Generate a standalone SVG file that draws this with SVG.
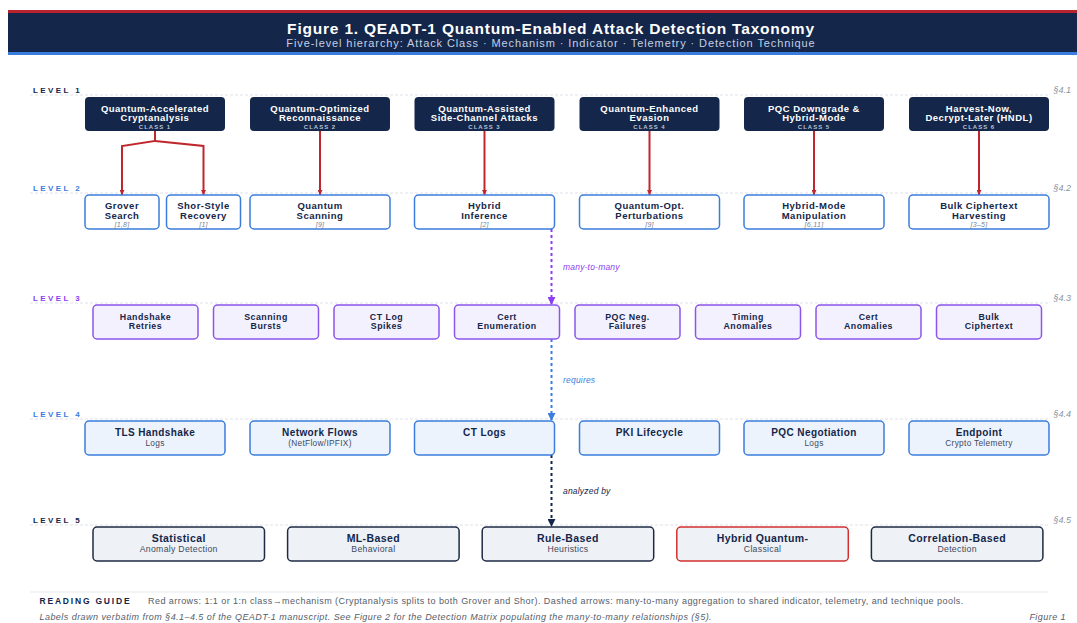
<svg xmlns="http://www.w3.org/2000/svg" width="1077" height="623" viewBox="0 0 1077 623">
<style>
text{font-family:"Liberation Sans",Arial,sans-serif}
.tt{font-size:15.5px;font-weight:bold;fill:#fff;text-anchor:middle;letter-spacing:.8px}
.st{font-size:11px;fill:#c5d0e3;text-anchor:middle;letter-spacing:.9px}
.lv{font-size:8px;font-weight:bold;letter-spacing:2.4px}
.sec{font-size:9px;font-style:italic;fill:#8a93a3;text-anchor:end}
.sep{stroke:#dde1e8;stroke-width:1;stroke-dasharray:3 2}
.b1{fill:#14264a}
.b2{fill:#fff;stroke:#3b7ddd;stroke-width:1.5}
.b3{fill:#f4f1fe;stroke:#8b55ea;stroke-width:1.5}
.b4{fill:#edf3fc;stroke:#3b7ddd;stroke-width:1.5}
.b5{fill:#eef1f6;stroke:#1e2b45;stroke-width:1.5}
.b5r{fill:#eef1f6;stroke:#d32f2f;stroke-width:1.5}
.t1{font-size:9.5px;font-weight:bold;fill:#fff;text-anchor:middle;letter-spacing:.5px}
.c1{font-size:6px;font-weight:bold;fill:#b9c4d8;text-anchor:middle;letter-spacing:1px}
.t2{font-size:9.5px;font-weight:bold;fill:#14264a;text-anchor:middle;letter-spacing:.5px}
.r2{font-size:7px;font-style:italic;fill:#7a8699;text-anchor:middle;letter-spacing:.3px}
.t3{font-size:8.8px;font-weight:bold;fill:#14264a;text-anchor:middle;letter-spacing:.5px}
.t4{font-size:10px;font-weight:bold;fill:#14264a;text-anchor:middle;letter-spacing:.4px}
.s4{font-size:8.3px;fill:#3c4a60;text-anchor:middle;letter-spacing:.3px}
.t5{font-size:10.5px;font-weight:bold;fill:#14264a;text-anchor:middle;letter-spacing:.4px}
.s5{font-size:8.7px;fill:#3c4a60;text-anchor:middle;letter-spacing:.3px}
.red{fill:none;stroke:#c0262d;stroke-width:2}
.dl{font-size:8.5px;font-style:italic;letter-spacing:.2px}
.ft{font-size:9px;fill:#555d6b;letter-spacing:.45px}
</style>
<defs>
<marker id="ar" viewBox="0 0 10 10" refX="10" refY="5" markerWidth="6" markerHeight="5" markerUnits="userSpaceOnUse" orient="auto"><path d="M0,0L10,5L0,10z" fill="#c0262d"/></marker>
<marker id="ap" viewBox="0 0 10 10" refX="10" refY="5" markerWidth="8" markerHeight="8" markerUnits="userSpaceOnUse" orient="auto"><path d="M0,0L10,5L0,10z" fill="#8b3ff0"/></marker>
<marker id="ab" viewBox="0 0 10 10" refX="10" refY="5" markerWidth="8" markerHeight="8" markerUnits="userSpaceOnUse" orient="auto"><path d="M0,0L10,5L0,10z" fill="#3b7ddd"/></marker>
<marker id="an" viewBox="0 0 10 10" refX="10" refY="5" markerWidth="8" markerHeight="8" markerUnits="userSpaceOnUse" orient="auto"><path d="M0,0L10,5L0,10z" fill="#14264a"/></marker>
</defs>
<rect width="1077" height="623" fill="#fff"/>
<g id="header">
<rect x="8" y="10" width="1069" height="3" fill="#b8232d"/>
<rect x="8" y="13" width="1069" height="39" fill="#14264a"/>
<rect x="8" y="52" width="1069" height="3" fill="#3b7ddd"/>
<text class="tt" x="551" y="34">Figure 1. QEADT-1 Quantum-Enabled Attack Detection Taxonomy</text>
<text class="st" x="551" y="47">Five-level hierarchy: Attack Class · Mechanism · Indicator · Telemetry · Detection Technique</text>
</g>
<g id="levels">
<line class="sep" x1="30" y1="95" x2="1048" y2="95"/>
<text class="lv" x="33" y="93" fill="#14264a">LEVEL 1</text>
<text class="sec" x="1071" y="93">§4.1</text>
<line class="sep" x1="30" y1="193" x2="1048" y2="193"/>
<text class="lv" x="33" y="191" fill="#3b7ddd">LEVEL 2</text>
<text class="sec" x="1071" y="191">§4.2</text>
<line class="sep" x1="30" y1="303" x2="1048" y2="303"/>
<text class="lv" x="33" y="301" fill="#8b3ff0">LEVEL 3</text>
<text class="sec" x="1071" y="301">§4.3</text>
<line class="sep" x1="30" y1="419" x2="1048" y2="419"/>
<text class="lv" x="33" y="417" fill="#3b7ddd">LEVEL 4</text>
<text class="sec" x="1071" y="417">§4.4</text>
<line class="sep" x1="30" y1="525" x2="1048" y2="525"/>
<text class="lv" x="33" y="523" fill="#14264a">LEVEL 5</text>
<text class="sec" x="1071" y="523">§4.5</text>
</g>
<g id="connectors">
<path class="red" d="M155,131V141L122,146V195" marker-end="url(#ar)"/>
<path class="red" d="M155,141L203.5,146V195" marker-end="url(#ar)"/>
<path class="red" d="M320,131V195" marker-end="url(#ar)"/>
<path class="red" d="M484.5,131V195" marker-end="url(#ar)"/>
<path class="red" d="M649.5,131V195" marker-end="url(#ar)"/>
<path class="red" d="M814,131V195" marker-end="url(#ar)"/>
<path class="red" d="M979,131V195" marker-end="url(#ar)"/>
<path d="M551.5,229V305" fill="none" stroke="#8b3ff0" stroke-width="2" stroke-dasharray="3 3" marker-end="url(#ap)"/>
<text class="dl" x="563" y="270" fill="#8b3ff0">many-to-many</text>
<path d="M551.5,339V421" fill="none" stroke="#3b7ddd" stroke-width="2" stroke-dasharray="3 3" marker-end="url(#ab)"/>
<text class="dl" x="563" y="383" fill="#3b7ddd">requires</text>
<path d="M551.5,455V527" fill="none" stroke="#14264a" stroke-width="2" stroke-dasharray="3 3" marker-end="url(#an)"/>
<text class="dl" x="563" y="494" fill="#14264a">analyzed by</text>
</g>
<g id="l1-c1"><rect class="b1" x="85" y="97" width="140" height="34" rx="4"/><text class="t1" x="155" y="111.5">Quantum-Accelerated</text><text class="t1" x="155" y="121.3">Cryptanalysis</text><text class="c1" x="155" y="128.5">CLASS 1</text></g>
<g id="l1-c2"><rect class="b1" x="250" y="97" width="140" height="34" rx="4"/><text class="t1" x="320" y="111.5">Quantum-Optimized</text><text class="t1" x="320" y="121.3">Reconnaissance</text><text class="c1" x="320" y="128.5">CLASS 2</text></g>
<g id="l1-c3"><rect class="b1" x="414.5" y="97" width="140" height="34" rx="4"/><text class="t1" x="484.5" y="111.5">Quantum-Assisted</text><text class="t1" x="484.5" y="121.3">Side-Channel Attacks</text><text class="c1" x="484.5" y="128.5">CLASS 3</text></g>
<g id="l1-c4"><rect class="b1" x="579.5" y="97" width="140" height="34" rx="4"/><text class="t1" x="649.5" y="111.5">Quantum-Enhanced</text><text class="t1" x="649.5" y="121.3">Evasion</text><text class="c1" x="649.5" y="128.5">CLASS 4</text></g>
<g id="l1-c5"><rect class="b1" x="744" y="97" width="140" height="34" rx="4"/><text class="t1" x="814" y="111.5">PQC Downgrade &amp;</text><text class="t1" x="814" y="121.3">Hybrid-Mode</text><text class="c1" x="814" y="128.5">CLASS 5</text></g>
<g id="l1-c6"><rect class="b1" x="909" y="97" width="140" height="34" rx="4"/><text class="t1" x="979" y="111.5">Harvest-Now,</text><text class="t1" x="979" y="121.3">Decrypt-Later (HNDL)</text><text class="c1" x="979" y="128.5">CLASS 6</text></g>
<g id="l2-grover"><rect class="b2" x="85" y="195" width="74" height="34" rx="4"/><text class="t2" x="122" y="209">Grover</text><text class="t2" x="122" y="218.8">Search</text><text class="r2" x="122" y="226.5">[1,8]</text></g>
<g id="l2-shor"><rect class="b2" x="166.5" y="195" width="74" height="34" rx="4"/><text class="t2" x="203.5" y="209">Shor-Style</text><text class="t2" x="203.5" y="218.8">Recovery</text><text class="r2" x="203.5" y="226.5">[1]</text></g>
<g id="l2-scan"><rect class="b2" x="250" y="195" width="140" height="34" rx="4"/><text class="t2" x="320" y="209">Quantum</text><text class="t2" x="320" y="218.8">Scanning</text><text class="r2" x="320" y="226.5">[9]</text></g>
<g id="l2-hybinf"><rect class="b2" x="414.5" y="195" width="140" height="34" rx="4"/><text class="t2" x="484.5" y="209">Hybrid</text><text class="t2" x="484.5" y="218.8">Inference</text><text class="r2" x="484.5" y="226.5">[2]</text></g>
<g id="l2-pert"><rect class="b2" x="579.5" y="195" width="140" height="34" rx="4"/><text class="t2" x="649.5" y="209">Quantum-Opt.</text><text class="t2" x="649.5" y="218.8">Perturbations</text><text class="r2" x="649.5" y="226.5">[9]</text></g>
<g id="l2-hybmode"><rect class="b2" x="744" y="195" width="140" height="34" rx="4"/><text class="t2" x="814" y="209">Hybrid-Mode</text><text class="t2" x="814" y="218.8">Manipulation</text><text class="r2" x="814" y="226.5">[6,11]</text></g>
<g id="l2-bulk"><rect class="b2" x="909" y="195" width="140" height="34" rx="4"/><text class="t2" x="979" y="209">Bulk Ciphertext</text><text class="t2" x="979" y="218.8">Harvesting</text><text class="r2" x="979" y="226.5">[3–5]</text></g>
<g id="l3-1"><rect class="b3" x="93" y="305" width="105" height="34" rx="4"/><text class="t3" x="145.5" y="319.5">Handshake</text><text class="t3" x="145.5" y="329">Retries</text></g>
<g id="l3-2"><rect class="b3" x="213.5" y="305" width="105" height="34" rx="4"/><text class="t3" x="266" y="319.5">Scanning</text><text class="t3" x="266" y="329">Bursts</text></g>
<g id="l3-3"><rect class="b3" x="334" y="305" width="105" height="34" rx="4"/><text class="t3" x="386.5" y="319.5">CT Log</text><text class="t3" x="386.5" y="329">Spikes</text></g>
<g id="l3-4"><rect class="b3" x="454.5" y="305" width="105" height="34" rx="4"/><text class="t3" x="507" y="319.5">Cert</text><text class="t3" x="507" y="329">Enumeration</text></g>
<g id="l3-5"><rect class="b3" x="575" y="305" width="105" height="34" rx="4"/><text class="t3" x="627.5" y="319.5">PQC Neg.</text><text class="t3" x="627.5" y="329">Failures</text></g>
<g id="l3-6"><rect class="b3" x="695.5" y="305" width="105" height="34" rx="4"/><text class="t3" x="748" y="319.5">Timing</text><text class="t3" x="748" y="329">Anomalies</text></g>
<g id="l3-7"><rect class="b3" x="816" y="305" width="105" height="34" rx="4"/><text class="t3" x="868.5" y="319.5">Cert</text><text class="t3" x="868.5" y="329">Anomalies</text></g>
<g id="l3-8"><rect class="b3" x="936.5" y="305" width="105" height="34" rx="4"/><text class="t3" x="989" y="319.5">Bulk</text><text class="t3" x="989" y="329">Ciphertext</text></g>
<g id="l4-1"><rect class="b4" x="85" y="421" width="140" height="34" rx="4"/><text class="t4" x="155" y="436">TLS Handshake</text><text class="s4" x="155" y="445.5">Logs</text></g>
<g id="l4-2"><rect class="b4" x="250" y="421" width="140" height="34" rx="4"/><text class="t4" x="320" y="436">Network Flows</text><text class="s4" x="320" y="445.5">(NetFlow/IPFIX)</text></g>
<g id="l4-3"><rect class="b4" x="414.5" y="421" width="140" height="34" rx="4"/><text class="t4" x="484.5" y="436">CT Logs</text></g>
<g id="l4-4"><rect class="b4" x="579.5" y="421" width="140" height="34" rx="4"/><text class="t4" x="649.5" y="436">PKI Lifecycle</text></g>
<g id="l4-5"><rect class="b4" x="744" y="421" width="140" height="34" rx="4"/><text class="t4" x="814" y="436">PQC Negotiation</text><text class="s4" x="814" y="445.5">Logs</text></g>
<g id="l4-6"><rect class="b4" x="909" y="421" width="140" height="34" rx="4"/><text class="t4" x="979" y="436">Endpoint</text><text class="s4" x="979" y="445.5">Crypto Telemetry</text></g>
<g id="l5-1"><rect class="b5" x="93" y="527" width="171.5" height="34" rx="4"/><text class="t5" x="178.75" y="541.5">Statistical</text><text class="s5" x="178.75" y="551.5">Anomaly Detection</text></g>
<g id="l5-2"><rect class="b5" x="287.6" y="527" width="171.5" height="34" rx="4"/><text class="t5" x="373.35" y="541.5">ML-Based</text><text class="s5" x="373.35" y="551.5">Behavioral</text></g>
<g id="l5-3"><rect class="b5" x="482.2" y="527" width="171.5" height="34" rx="4"/><text class="t5" x="567.95" y="541.5">Rule-Based</text><text class="s5" x="567.95" y="551.5">Heuristics</text></g>
<g id="l5-4"><rect class="b5r" x="676.8" y="527" width="171.5" height="34" rx="4"/><text class="t5" x="762.55" y="541.5">Hybrid Quantum-</text><text class="s5" x="762.55" y="551.5">Classical</text></g>
<g id="l5-5"><rect class="b5" x="871.4" y="527" width="171.5" height="34" rx="4"/><text class="t5" x="957.15" y="541.5">Correlation-Based</text><text class="s5" x="957.15" y="551.5">Detection</text></g>
<g id="footer">
<line x1="30" y1="592" x2="1048" y2="592" stroke="#e6e9ee" stroke-width="1"/>
<text x="39.5" y="604" font-size="8.5" font-weight="bold" fill="#14264a" letter-spacing="1.8">READING GUIDE</text>
<text class="ft" x="148" y="604">Red arrows: 1:1 or 1:n class→mechanism (Cryptanalysis splits to both Grover and Shor). Dashed arrows: many-to-many aggregation to shared indicator, telemetry, and technique pools.</text>
<text class="ft" x="39.5" y="620" font-style="italic">Labels drawn verbatim from §4.1–4.5 of the QEADT-1 manuscript. See Figure 2 for the Detection Matrix populating the many-to-many relationships (§5).</text>
<text class="ft" x="1066" y="620" font-style="italic" text-anchor="end">Figure 1</text>
</g>
</svg>
